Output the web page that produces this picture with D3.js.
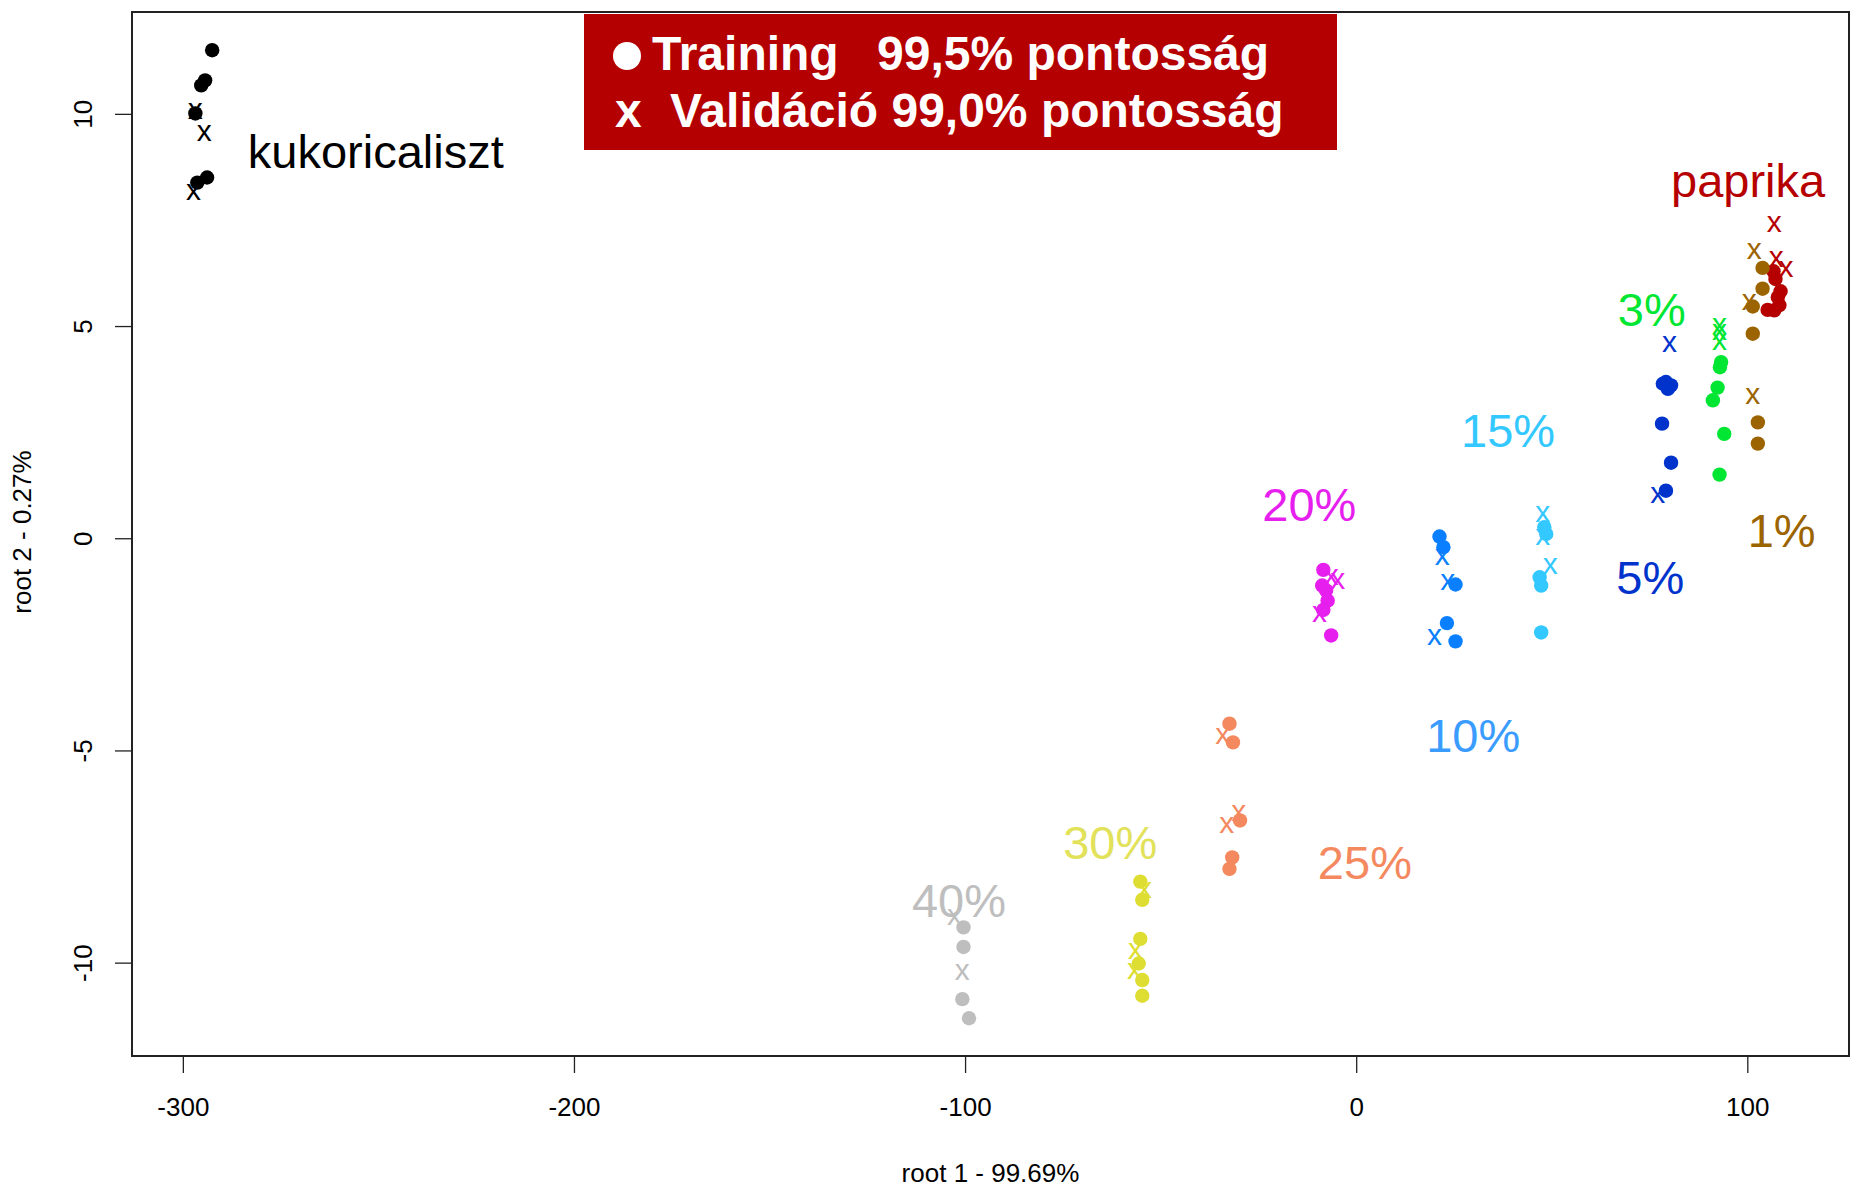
<!DOCTYPE html>
<html>
<head>
<meta charset="utf-8">
<script src="https://cdn.jsdelivr.net/npm/d3@7"></script>
<style>
    html, body { margin: 0; padding: 0; background: #ffffff; }
    svg { display: block; font-family: "Liberation Sans", Arial, sans-serif; }
</style>
</head>
<body>
<div id="chart"></div>
<script>
// tengelyek
const xTicks = [-300, -200, -100, 0, 100];
const yTicks = [-10, -5, 0, 5, 10];
const xTitle = 'root 1 - 99.69%';
const yTitle = 'root 2 - 0.27%';

// csoportok
const groups = ['kukoricaliszt', 'paprika', '1%', '3%', '5%', '10%', '15%', '20%', '25%', '30%', '40%'];

// training pontok [root1, root2]
const trainKukorica = [[-292.5, 11.50], [-294.3, 10.79], [-295.3, 10.67], [-296.8, 10.01], [-293.8, 8.50], [-296.3, 8.38]];
const trainPaprika = [[106.7, 6.29], [107.2, 6.11], [108.5, 5.82], [107.8, 5.68], [108.2, 5.49], [105.2, 5.38], [106.9, 5.37]];
const train1 = [[103.9, 6.37], [103.9, 5.88], [101.4, 5.46], [101.4, 4.82], [102.7, 2.73], [102.7, 2.23]];
const train3 = [[93.3, 4.15], [93.0, 4.03], [92.4, 3.55], [91.2, 3.25], [94.1, 2.46], [92.9, 1.50]];
const train5 = [[79.2, 3.68], [80.5, 3.60], [79.7, 3.52], [78.4, 3.64], [78.2, 2.70], [80.5, 1.78], [79.2, 1.12]];
const train10 = [[21.3, 0.04], [22.3, -0.21], [25.4, -1.09], [23.2, -2.00], [25.4, -2.43]];
const train15 = [[48.1, 0.26], [48.6, 0.10], [46.9, -0.92], [47.3, -1.115], [47.3, -2.22]];
const train20 = [[-8.4, -0.745], [-8.7, -1.115], [-7.7, -1.23], [-7.3, -1.47], [-8.4, -1.69], [-6.4, -2.29]];
const train25 = [[-32.4, -4.37], [-31.5, -4.81], [-29.7, -6.65], [-31.7, -7.52], [-32.4, -7.79]];
const train30 = [[-55.2, -8.09], [-54.7, -8.52], [-55.2, -9.44], [-55.6, -10.02], [-54.7, -10.41], [-54.7, -10.78]];
const train40 = [[-100.4, -9.17], [-100.4, -9.63], [-100.7, -10.86], [-99.0, -11.31]];

// validáció pontok [root1, root2]
const validKukorica = [[-296.8, 10.08], [-294.5, 9.54], [-297.3, 8.15]];
const validPaprika = [[106.9, 7.41], [107.4, 6.59], [109.9, 6.35]];
const valid1 = [[101.8, 6.78], [100.5, 5.56], [101.4, 3.36]];
const valid3 = [[92.9, 5.01], [92.9, 4.86], [92.9, 4.62]];
const valid5 = [[80.1, 4.58], [77.1, 1.01]];
const valid10 = [[22.0, -0.43], [23.4, -1.04], [20.0, -2.33]];
const valid15 = [[47.7, 0.575], [47.7, 0.02], [49.6, -0.64]];
const valid20 = [[-4.7, -1.00], [-6.4, -0.92], [-9.4, -1.78]];
const valid25 = [[-34.1, -4.65], [-33.1, -6.75], [-30.0, -6.46]];
const valid30 = [[-54.1, -8.29], [-56.4, -9.72], [-56.7, -10.19]];
const valid40 = [[-102.7, -8.93], [-100.7, -10.23]];

// feliratok helye (adat koordinátákban, bal alsó sarok)
const labelX = [-283.4, 80.5, 100.1, 66.9, 66.5, 17.9, 26.8, -24.0, -9.8, -74.9, -113.6];
const labelY = [8.72, 8.03, -0.21, 5.01, -1.31, -5.04, 2.14, 0.40, -8.03, -7.55, -8.93];

const trainSets = [trainKukorica, trainPaprika, train1, train3, train5, train10, train15, train20, train25, train30, train40];
const validSets = [validKukorica, validPaprika, valid1, valid3, valid5, valid10, valid15, valid20, valid25, valid30, valid40];

// színek
const colors = ['#000000', '#B60000', '#9C6400', '#00E633', '#0033CC', '#0A7FFF', '#33C8FF', '#E61EEE', '#F4895F', '#DEDE32', '#BEBEBE'];
const labelColors = ['#000000', '#B60000', '#9C6400', '#00E633', '#0033CC', '#3A9CFF', '#33C8FF', '#E61EEE', '#F4895F', '#E2E25A', '#BEBEBE'];

const width = 1853;
const height = 1196;
const plot = { left: 132, right: 1849, top: 12, bottom: 1056 };

const svg = d3.select('#chart')
    .append('svg')
    .attr('width', width)
    .attr('height', height);

const xScale = d3.scaleLinear()
    .domain([-313, 126])
    .range([plot.left, plot.right]);

const yScale = d3.scaleLinear()
    .domain([-12.2, 12.4])
    .range([plot.bottom, plot.top]);

// X tengely
const xAxis = svg.append('g')
    .attr('transform', `translate(0,${plot.bottom})`)
    .call(d3.axisBottom(xScale).tickValues(xTicks).tickSize(17).tickPadding(25).tickFormat(d => String(d)));
xAxis.select('.domain').remove();
xAxis.selectAll('line').attr('stroke', '#222').attr('stroke-width', 1.3);
xAxis.selectAll('text').attr('fill', '#000').style('font-size', '26px');

// Y tengely
const yAxis = svg.append('g')
    .attr('transform', `translate(${plot.left},0)`)
    .call(d3.axisLeft(yScale).tickValues(yTicks).tickSize(17).tickFormat(d => String(d)));
yAxis.select('.domain').remove();
yAxis.selectAll('line').attr('stroke', '#222').attr('stroke-width', 1.3);
yAxis.selectAll('text')
    .attr('x', null)
    .attr('dy', null)
    .attr('fill', '#000')
    .attr('text-anchor', 'middle')
    .attr('transform', 'translate(-40,0) rotate(-90)')
    .style('font-size', '26px');

// keret
svg.append('rect')
    .attr('x', plot.left)
    .attr('y', plot.top)
    .attr('width', plot.right - plot.left)
    .attr('height', plot.bottom - plot.top)
    .attr('fill', 'none')
    .attr('stroke', '#222')
    .attr('stroke-width', 2);

// tengelycímek
svg.append('text')
    .attr('x', (plot.left + plot.right) / 2)
    .attr('y', 1182)
    .attr('text-anchor', 'middle')
    .style('font-size', '26px')
    .text(xTitle);

svg.append('text')
    .attr('transform', `translate(31,${(plot.top + plot.bottom) / 2 - 2}) rotate(-90)`)
    .attr('text-anchor', 'middle')
    .style('font-size', '26px')
    .text(yTitle);

// training pontok
groups.forEach((g, i) => {
    svg.append('g')
        .selectAll('circle')
        .data(trainSets[i])
        .enter()
        .append('circle')
        .attr('cx', d => xScale(d[0]))
        .attr('cy', d => yScale(d[1]))
        .attr('r', 7.2)
        .attr('fill', colors[i]);
});

// validáció pontok (x)
groups.forEach((g, i) => {
    svg.append('g')
        .selectAll('text')
        .data(validSets[i])
        .enter()
        .append('text')
        .attr('x', d => xScale(d[0]))
        .attr('y', d => yScale(d[1]))
        .attr('dy', '0.27em')
        .attr('text-anchor', 'middle')
        .attr('fill', colors[i])
        .style('font-size', '30px')
        .text('x');
});

// csoport feliratok
svg.append('g')
    .selectAll('text')
    .data(groups)
    .enter()
    .append('text')
    .attr('x', (d, i) => xScale(labelX[i]))
    .attr('y', (d, i) => yScale(labelY[i]))
    .attr('fill', (d, i) => labelColors[i])
    .style('font-size', '47px')
    .text(d => d);

// jelmagyarázat
const legend = svg.append('g');
legend.append('rect')
    .attr('x', 584)
    .attr('y', 14)
    .attr('width', 753)
    .attr('height', 136)
    .attr('fill', '#B40000');

legend.append('circle')
    .attr('cx', 627)
    .attr('cy', 56)
    .attr('r', 14)
    .attr('fill', '#ffffff');

const legendText = [
    { x: 652, y: 70, text: 'Training' },
    { x: 877, y: 70, text: '99,5% pontosság' },
    { x: 615, y: 127, text: 'x' },
    { x: 670, y: 127, text: 'Validáció 99,0% pontosság' }
];
legend.selectAll('text')
    .data(legendText)
    .enter()
    .append('text')
    .attr('x', d => d.x)
    .attr('y', d => d.y)
    .attr('fill', '#ffffff')
    .style('font-size', '48px')
    .style('font-weight', 'bold')
    .text(d => d.text);
</script>
</body>
</html>
